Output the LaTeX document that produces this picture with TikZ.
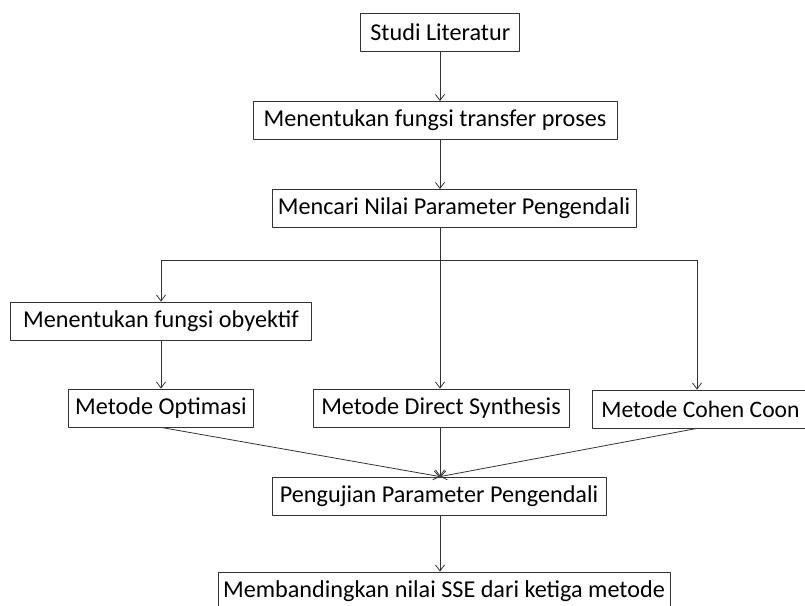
\documentclass[tikz,border=0pt]{standalone}
\usepackage{fontspec}
\setmainfont{Carlito}
\usetikzlibrary{arrows.meta}

\begin{document}
\begin{tikzpicture}[x=1pt,y=-1pt,line join=round,
  box/.style={draw=black!80, line width=0.8pt, fill=white, inner sep=0pt,
    minimum height=38pt, font=\fontsize{24.2}{29}\selectfont},
  arr/.style={draw=black!80, line width=0.8pt, -{Straight Barb[length=6pt,width=9pt]}},
  wire/.style={draw=black!80, line width=0.8pt}]
\useasboundingbox (0,0) rectangle (805,605);
\fill[white] (0,0) rectangle (805,605);
\node[box, minimum width=159pt] (lit) at (440.3,32) {Studi Literatur};
\node[box, minimum width=364pt] (tf) at (435,120.5) {Menentukan fungsi transfer proses};
\node[box, minimum width=364pt] (par) at (454,208.5) {Mencari Nilai Parameter Pengendali};
\node[box, minimum width=301pt] (obj) at (161,321) {Menentukan fungsi obyektif};
\node[box, minimum width=185pt] (opt) at (161,408) {Metode Optimasi};
\node[box, minimum width=256pt] (ds) at (441,408) {Metode Direct Synthesis};
\node[box, anchor=west, inner xsep=9pt, text width=250pt, align=flush left,
  font=\fontsize{23.6}{28}\selectfont] (cc) at (592,409) {Metode Cohen Coon};
\node[box, minimum width=334pt] (uji) at (439,496) {Pengujian Parameter Pengendali};
\node[box, minimum width=452pt] (sse) at (444,591) {Membandingkan nilai SSE dari ketiga metode};
\coordinate (mid) at (440,260);
\coordinate (rgt) at (697,260);
\draw[arr] (mid |- lit.south) -- (mid |- tf.north);
\draw[arr] (mid |- tf.south) -- (mid |- par.north);
\draw[arr] (mid |- par.south) -- (mid |- ds.north);
\draw[arr] (mid) -| (obj.north);
\draw[wire] (mid) -- (rgt);
\draw[arr] (rgt) -- (rgt |- cc.north);
\draw[arr] (obj) -- (opt);
\draw[arr] (opt.south) -- (mid |- uji.north);
\draw[arr] (mid |- ds.south) -- (mid |- uji.north);
\draw[arr] (rgt |- cc.south) -- (mid |- uji.north);
\draw[arr] (mid |- uji.south) -- (mid |- sse.north);
\end{tikzpicture}
\end{document}
